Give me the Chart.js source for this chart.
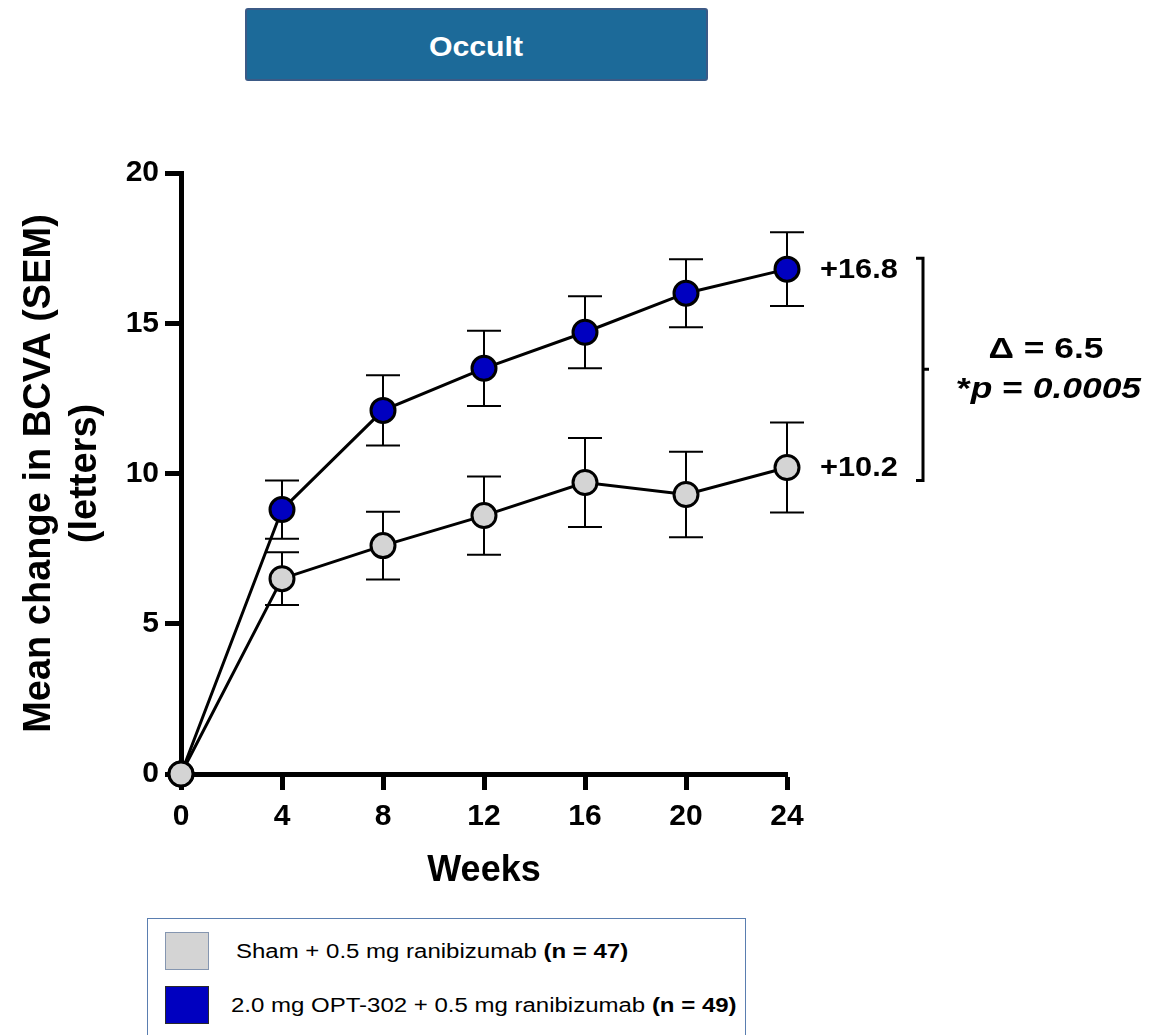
<!DOCTYPE html>
<html>
<head>
<meta charset="utf-8">
<script src="https://cdn.jsdelivr.net/npm/chart.js@4"></script>
<style>
  html, body { margin:0; padding:0; background:#fff; width:1160px; height:1035px; overflow:hidden; font-family:"Liberation Sans", Arial, sans-serif; }
  #wrap { position:absolute; left:0; top:0; width:1160px; height:1035px; }
  #c { position:absolute; left:0; top:0; }
  #titleBox { position:absolute; left:245px; top:8px; width:459px; height:69px; background:#1c6a99; border:2px solid #3b5a86; border-radius:3px; display:flex; align-items:center; justify-content:center; }
  #titleBox span { color:#fff; font-weight:bold; font-size:27px; display:inline-block; transform:scaleX(1.12); position:relative; top:3px; }
  #legend { position:absolute; left:147px; top:918px; width:597px; height:130px; border:1px solid #5a7eb0; background:#fff; }
  .sw { position:absolute; left:17px; width:44px; height:38px; box-sizing:border-box; }
  .lt { position:absolute; font-size:20px; white-space:nowrap; transform-origin:left center; transform:scaleX(1.2); line-height:20px; color:#000; }
  .lt b { font-weight:bold; }
</style>
</head>
<body>
<div id="wrap">
  <canvas id="c" width="1160" height="1035"></canvas>
  <div id="titleBox"><span id="titleText"></span></div>
  <div id="legend"></div>
</div>
<script>
// ---- Data ----
const weeks = [0, 4, 8, 12, 16, 20, 24];
const shamMean = [0, 6.5, 7.6, 8.6, 9.7, 9.3, 10.2];
const shamSEM  = [0, 0.88, 1.13, 1.3, 1.48, 1.42, 1.5];
const optMean  = [0, 8.8, 12.1, 13.5, 14.7, 16.0, 16.8];
const optSEM   = [0, 0.97, 1.17, 1.25, 1.2, 1.13, 1.23];
const seriesNames = ['Sham + 0.5 mg ranibizumab ', '2.0 mg OPT-302 + 0.5 mg ranibizumab '];
const seriesN = ['(n = 47)', '(n = 49)'];
const endLabels = ['+10.2', '+16.8'];
const deltaLabel = 'Δ = 6.5';
const pLabelParts = [['*', false], ['p', true], [' = ', false], ['0.0005', true]];
const panelTitle = 'Occult';
const xTitle = 'Weeks';
const yTitle = ['Mean change in BCVA (SEM)', '(letters)'];

const GRAY = '#d4d4d4';
const BLUE = '#0000c0';
const FONT = '"Liberation Sans", Arial, sans-serif';

document.getElementById('titleText').textContent = panelTitle;
const legend = document.getElementById('legend');
[[GRAY, '#8596b0', 13, 32, 22], [BLUE, '#2a2a2a', 67, 86, 76]].forEach((s, i) => {
  const sw = document.createElement('div');
  sw.className = 'sw';
  sw.style.top = s[2] + 'px';
  sw.style.background = s[0];
  sw.style.border = '1px solid ' + s[1];
  legend.appendChild(sw);
  const t = document.createElement('div');
  t.className = 'lt';
  t.style.left = (i === 0 ? 88 : 83) + 'px';
  t.style.top = s[4] + 'px';
  t.innerHTML = seriesNames[i] + '<b>' + seriesN[i] + '</b>';
  legend.appendChild(t);
});

const errorBars = {
  id: 'errorBars',
  beforeDatasetsDraw(chart) {
    const { ctx, scales: { x, y } } = chart;
    const sets = [[optMean, optSEM], [shamMean, shamSEM]];
    ctx.save();
    ctx.strokeStyle = '#000';
    ctx.lineWidth = 2;
    sets.forEach(([m, e]) => {
      weeks.forEach((w, i) => {
        if (!e[i]) return;
        const px = x.getPixelForValue(w);
        const yt = y.getPixelForValue(m[i] + e[i]);
        const yb = y.getPixelForValue(m[i] - e[i]);
        ctx.beginPath();
        ctx.moveTo(px, yt); ctx.lineTo(px, yb);
        ctx.moveTo(px - 17, yt); ctx.lineTo(px + 17, yt);
        ctx.moveTo(px - 17, yb); ctx.lineTo(px + 17, yb);
        ctx.stroke();
      });
    });
    ctx.restore();
  }
};

function stretched(ctx, text, x, y, sx) {
  ctx.save();
  ctx.translate(x, y);
  ctx.scale(sx, 1);
  ctx.fillText(text, 0, 0);
  ctx.restore();
  return ctx.measureText(text).width * sx;
}

const annotations = {
  id: 'annotations',
  afterDraw(chart) {
    const { ctx, scales: { x, y } } = chart;
    const xEnd = x.getPixelForValue(weeks[weeks.length - 1]);
    const yHi = y.getPixelForValue(optMean[optMean.length - 1]);
    const yLo = y.getPixelForValue(shamMean[shamMean.length - 1]);
    ctx.save();
    ctx.fillStyle = '#000';
    ctx.textBaseline = 'middle';
    ctx.textAlign = 'left';
    ctx.font = 'bold 27px ' + FONT;
    stretched(ctx, endLabels[1], xEnd + 33, yHi + 1, 1.14);
    stretched(ctx, endLabels[0], xEnd + 33, yLo + 1, 1.14);

    // bracket
    const bx = xEnd + 136;
    const bt = yHi - 11, bb = yLo + 13, bm = (bt + bb) / 2;
    ctx.strokeStyle = '#000';
    ctx.lineWidth = 3;
    ctx.beginPath();
    ctx.moveTo(bx - 7, bt); ctx.lineTo(bx, bt); ctx.lineTo(bx, bb); ctx.lineTo(bx - 7, bb);
    ctx.moveTo(bx, bm); ctx.lineTo(bx + 6, bm);
    ctx.stroke();

    // delta text
    const sx = 1.18;
    ctx.font = 'bold 30px ' + FONT;
    const dw = ctx.measureText(deltaLabel).width * sx;
    stretched(ctx, deltaLabel, 1046 - dw / 2, bm - 20, sx);
    // p value
    let total = 0;
    pLabelParts.forEach(([t, it]) => {
      ctx.font = (it ? 'italic ' : '') + 'bold 30px ' + FONT;
      total += ctx.measureText(t).width * sx;
    });
    let cx = 1049 - total / 2;
    pLabelParts.forEach(([t, it]) => {
      ctx.font = (it ? 'italic ' : '') + 'bold 30px ' + FONT;
      cx += stretched(ctx, t, cx, bm + 20, sx);
    });
    ctx.restore();
  }
};

const tickFont = { family: FONT, size: 30, weight: 'bold' };

new Chart(document.getElementById('c'), {
  type: 'line',
  data: {
    datasets: [
      {
        label: seriesNames[0],
        data: weeks.map((w, i) => ({ x: w, y: shamMean[i] })),
        borderColor: '#000', borderWidth: 3,
        pointBackgroundColor: GRAY, pointBorderColor: '#000', pointBorderWidth: 3,
        pointRadius: 12, tension: 0, clip: false
      },
      {
        label: seriesNames[1],
        data: weeks.map((w, i) => ({ x: w, y: optMean[i] })),
        borderColor: '#000', borderWidth: 3,
        pointBackgroundColor: BLUE, pointBorderColor: '#000', pointBorderWidth: 3,
        pointRadius: 12, tension: 0, clip: false
      }
    ]
  },
  options: {
    responsive: false,
    animation: false,
    events: [],
    layout: { padding: { top: 173, right: 373, left: 0, bottom: 0 } },
    plugins: { legend: { display: false }, tooltip: { enabled: false }, title: { display: false } },
    scales: {
      x: {
        type: 'linear', min: 0, max: 24,
        afterFit: s => { s.height = 261; },
        ticks: { stepSize: 4, color: '#000', font: tickFont, padding: 9 },
        grid: { drawOnChartArea: false, drawTicks: true, tickLength: 16, tickWidth: 5, tickColor: '#000' },
        border: { display: true, width: 5, color: '#000' },
        title: { display: true, text: xTitle, color: '#000', font: { family: FONT, size: 36, weight: 'bold' }, padding: { top: 0, bottom: 142 } }
      },
      y: {
        type: 'linear', min: 0, max: 20,
        afterFit: s => { s.width = 181; },
        ticks: { stepSize: 5, color: '#000', font: tickFont, padding: 6 },
        grid: { drawOnChartArea: false, drawTicks: true, tickLength: 16, tickWidth: 5, tickColor: '#000' },
        border: { display: true, width: 5, color: '#000' },
        title: { display: true, text: yTitle, color: '#000', font: { family: FONT, size: 38, weight: 'bold', lineHeight: 1.2 }, padding: { top: 17, bottom: 0 } }
      }
    }
  },
  plugins: [errorBars, annotations]
});
</script>
</body>
</html>
